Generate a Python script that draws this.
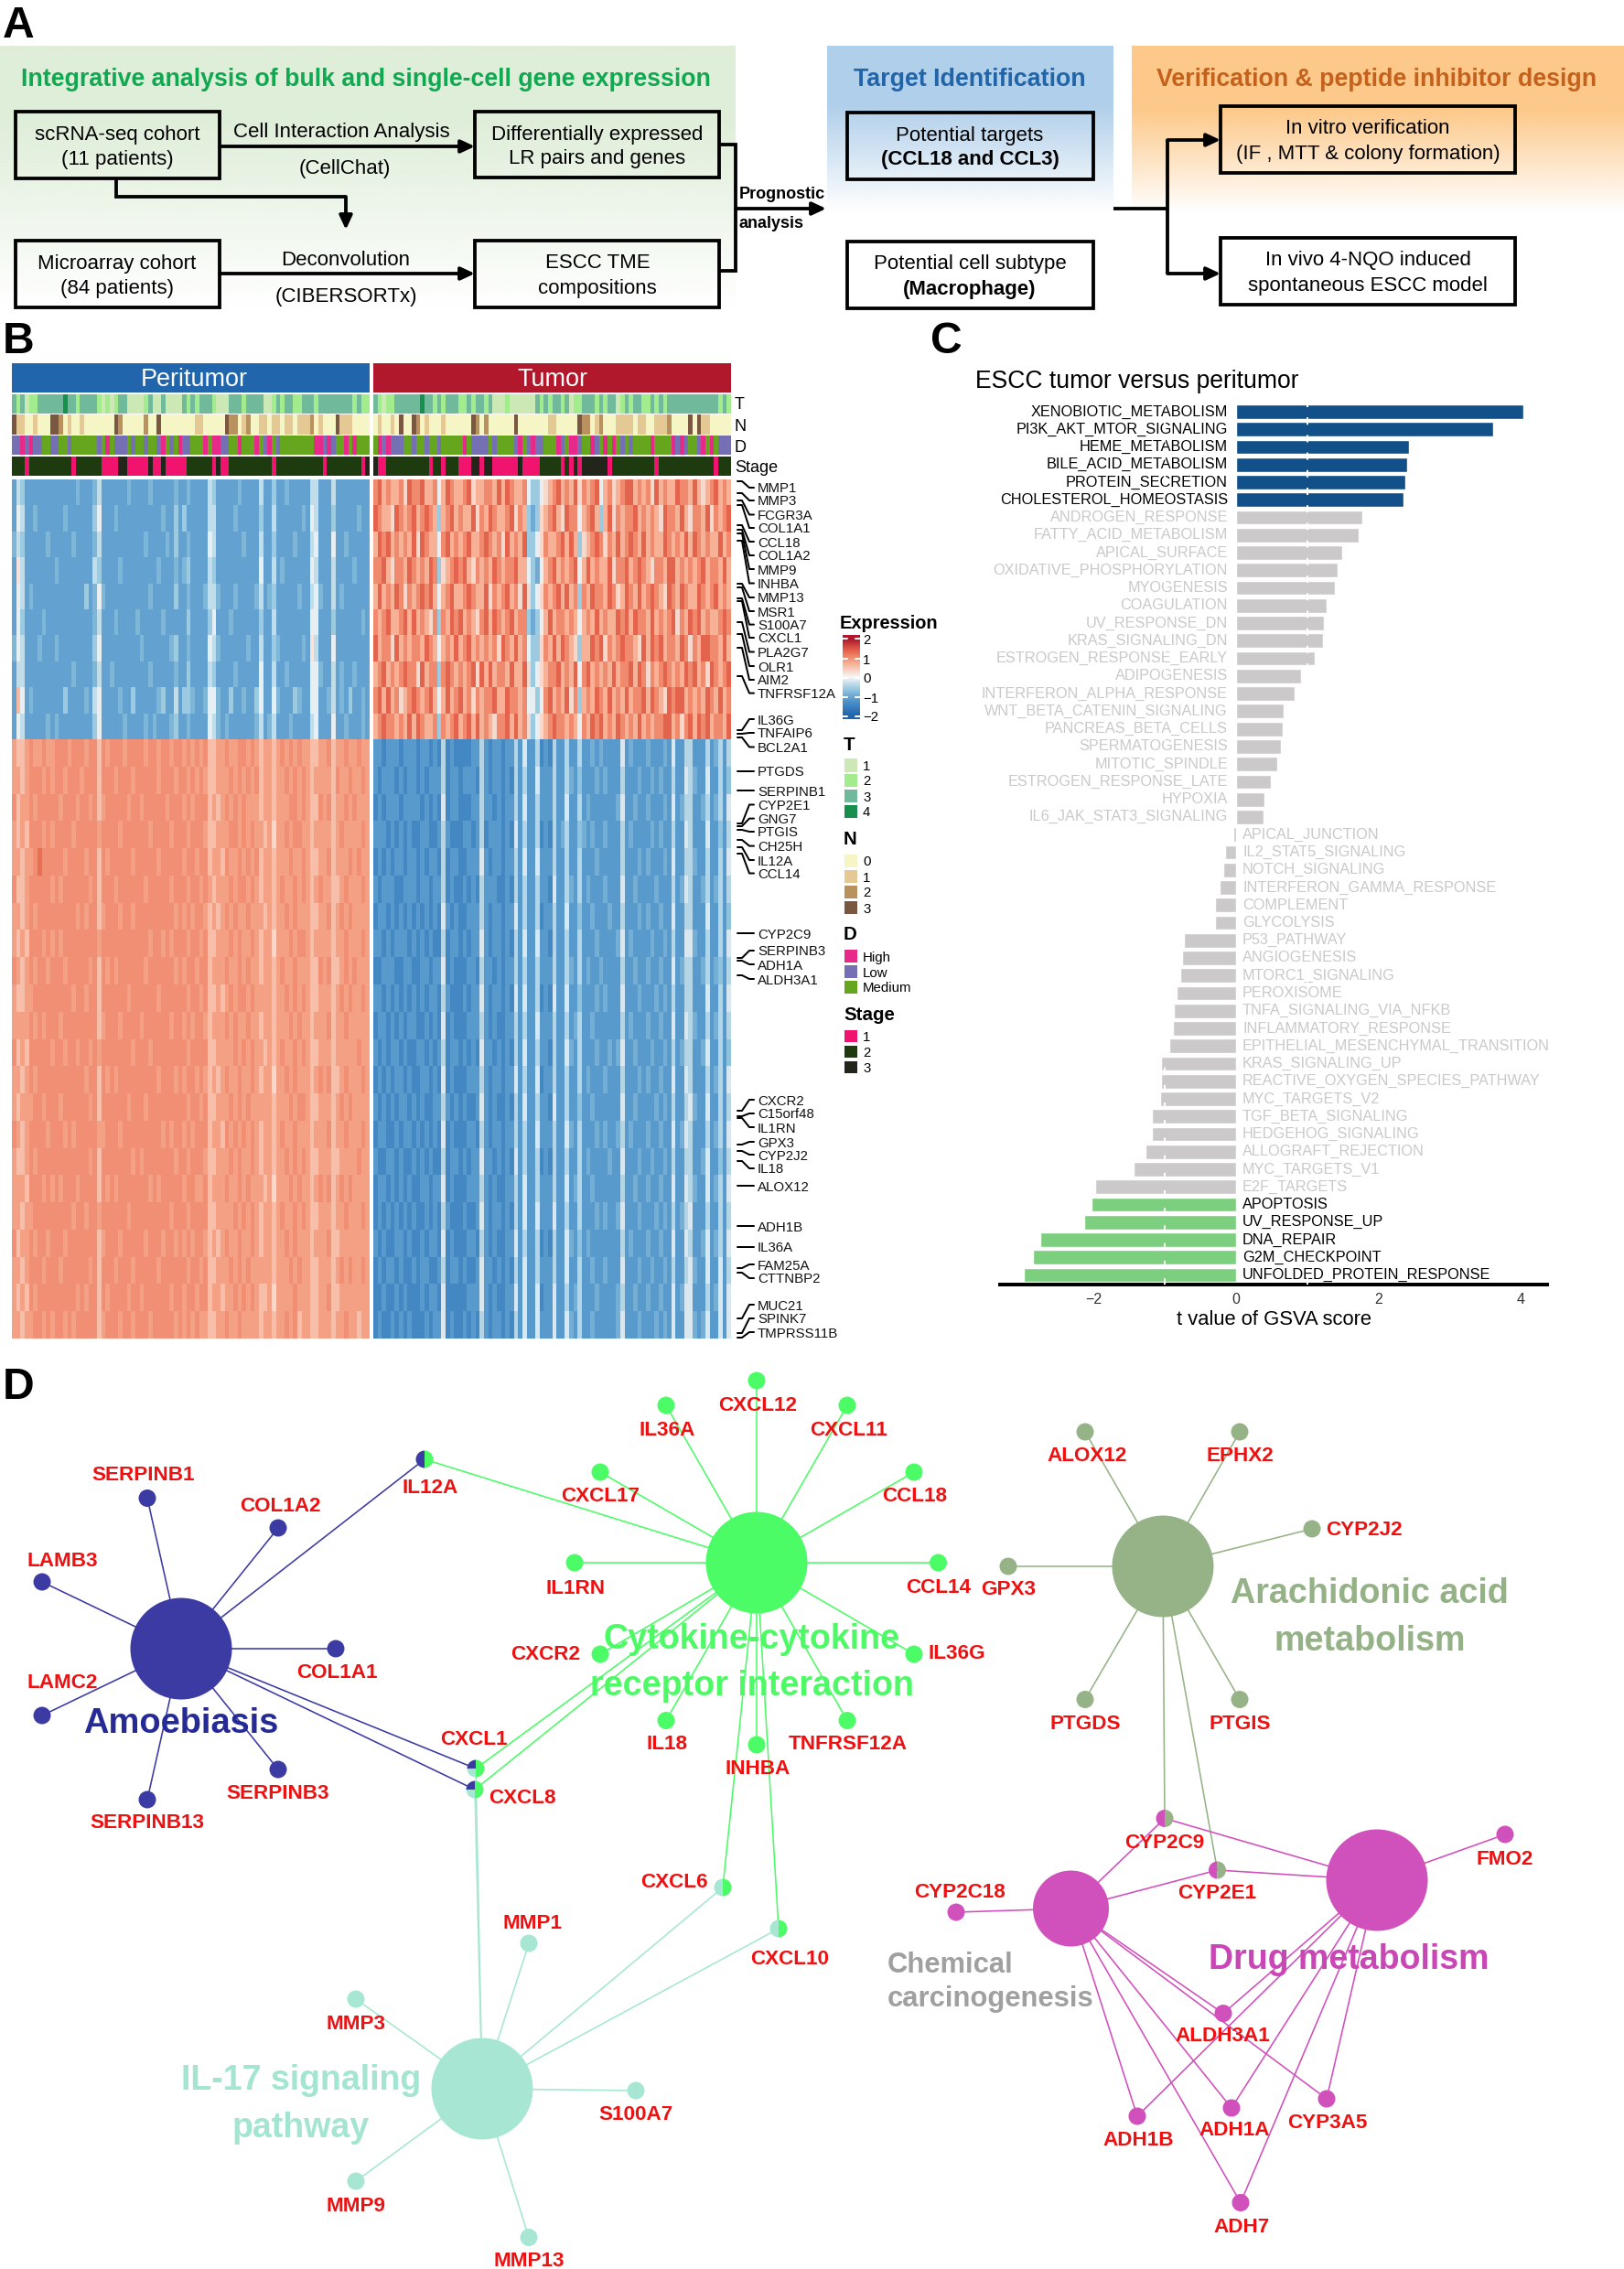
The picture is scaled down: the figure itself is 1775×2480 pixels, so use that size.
import numpy as np, pandas as pd, matplotlib
matplotlib.use("Agg")
import matplotlib.pyplot as plt, seaborn as sns
from matplotlib.colors import ListedColormap, LinearSegmentedColormap, to_rgb
from matplotlib.patches import Rectangle, Wedge

# ---------------- DATA ----------------
PATHWAYS_UP = ["XENOBIOTIC_METABOLISM","PI3K_AKT_MTOR_SIGNALING","HEME_METABOLISM","BILE_ACID_METABOLISM","PROTEIN_SECRETION","CHOLESTEROL_HOMEOSTASIS"]
T_UP = [4.04,3.62,2.43,2.41,2.38,2.36]
PATHWAYS_NS_POS = ["ANDROGEN_RESPONSE","FATTY_ACID_METABOLISM","APICAL_SURFACE","OXIDATIVE_PHOSPHORYLATION","MYOGENESIS","COAGULATION","UV_RESPONSE_DN","KRAS_SIGNALING_DN","ESTROGEN_RESPONSE_EARLY","ADIPOGENESIS","INTERFERON_ALPHA_RESPONSE","WNT_BETA_CATENIN_SIGNALING","PANCREAS_BETA_CELLS","SPERMATOGENESIS","MITOTIC_SPINDLE","ESTROGEN_RESPONSE_LATE","HYPOXIA","IL6_JAK_STAT3_SIGNALING"]
T_NS_POS = [1.78,1.73,1.49,1.43,1.39,1.27,1.24,1.22,1.11,0.92,0.82,0.67,0.66,0.63,0.58,0.49,0.40,0.39]
PATHWAYS_NS_NEG = ["APICAL_JUNCTION","IL2_STAT5_SIGNALING","NOTCH_SIGNALING","INTERFERON_GAMMA_RESPONSE","COMPLEMENT","GLYCOLYSIS","P53_PATHWAY","ANGIOGENESIS","MTORC1_SIGNALING","PEROXISOME","TNFA_SIGNALING_VIA_NFKB","INFLAMMATORY_RESPONSE","EPITHELIAL_MESENCHYMAL_TRANSITION","KRAS_SIGNALING_UP","REACTIVE_OXYGEN_SPECIES_PATHWAY","MYC_TARGETS_V2","TGF_BETA_SIGNALING","HEDGEHOG_SIGNALING","ALLOGRAFT_REJECTION","MYC_TARGETS_V1","E2F_TARGETS"]
T_NS_NEG = [-0.04,-0.155,-0.18,-0.235,-0.29,-0.29,-0.73,-0.76,-0.79,-0.84,-0.88,-0.89,-0.94,-1.06,-1.06,-1.07,-1.18,-1.18,-1.28,-1.44,-1.98]
PATHWAYS_DOWN = ["APOPTOSIS","UV_RESPONSE_UP","DNA_REPAIR","G2M_CHECKPOINT","UNFOLDED_PROTEIN_RESPONSE"]
T_DOWN = [-2.03,-2.13,-2.76,-2.86,-2.98]

ANN_T_PERI = "3 2 3 1 22 333333 4 33 2 3333 2 1 2 1 2 33 1111 2 3 11 3 1111 3 2 3 2 333 2 111 333 2 3333 11 2 3 2 33 22 33 3 2 33333333 2 3 2"
ANN_N_PERI = "3 11 00 1 000 33 2 0 1 00 1 0000000 3 2 00000 2 00 3 00000000 11 00000 3 22 0 1 2 00 11 0 11 0 11 0 111 2 0 1 000 3 111 0000"
ANN_D_PERI = "LL H L H LL MM LL MM L MMMMMM L M H M LLL M L MM L MM L H M L M H LL MMM H M HH LL MM H MMM H M L H M L MMMMMMMM HH L H L MM H M H M"
ANN_S_PERI = "222 1 2222222222 1 222222 1111 33 11111 3 11 3 11111 222222 1 3 11 2222222222 1 22222222222 1 22222222 1 3"
ANN_T_TUM = "3 2 1 22 333333 4 33 2 3 2 333 22 3 2 33 2 3 111 2 11 1111 3 2 3 2 33 2 3 1 22 333 2 3 2 33 1 2 3 2 33 22 3 2 3 2 333333333333 2 3 2"
ANN_N_TUM = "0 1 00 1 0 3 00 3 2 0 1 000 1 000000 3 2 0 2 000000 3 0000000 11 00000 3 22 0 1 2 000 1111 0 11 00 111 2 0000 3 0 3 11 000"
ANN_D_TUM = "M H L H LLL MM L MM L MM L MMMMM H M LLLL M L MMMM L H M L H LL MMM H L M HH L MM H L M H M H M L M L MMMM H MMMM H L H L MM L H M H M L"
ANN_S_TUM = "3 11 2222222222 1 22 1 222 111 33 1 33 111111 3 1111 22222 1 2 1 3 1 333333 1 2222222222 1 2222222222222 1 222"

# Coarse by-eye reading of the expression matrix: one string per band of rows, one digit per patient.
# Each digit is a shade class; the value each class stands for in each block is listed in LEVELS_*.
LEVELS_UL = {"2":-1.1,"3":-0.85,"4":-0.6,"5":-0.35,"6":-0.1,"7":0.2,"8":0.6}
LEVELS_LL = {"4":0.3,"5":0.55,"6":0.85,"7":1.0,"8":1.3}
LEVELS_UR = {"2":-1.0,"3":-0.6,"4":-0.1,"5":0.3,"6":0.7,"7":1.05,"8":1.4}
LEVELS_LR = {"1":-1.45,"2":-1.2,"3":-0.95,"4":-0.7,"5":-0.45,"6":-0.2}
HEAT_UL = [
"2542222222 2222232223 5222222322 2232222232 2322225422 2223222252 2422322222 5522252222 2222",
"2652232222 2232222224 6222322222 2222232242 4222225522 2232222242 2522222232 6522242222 2322",
"3542222232 2222322223 5222222222 2322223242 2322226522 2222322252 2422223222 5622262232 2222",
"2752222222 3222222225 4222232222 2222322232 3422225422 2222222262 2523222222 6522252222 3222",
"2652322222 2222222423 6322222222 2232222242 2322235532 2232222352 3422222322 5632252322 2222",
"2642222322 2222222223 5222322223 2222232222 2422224622 2322222242 2522222222 6622242222 2232",
"3652223222 3222222224 6222222222 3222222342 2322226532 2222232252 2432222232 7522262222 2222",
"2552222222 2222322223 5223222222 2232222232 2422225422 2232222262 2522322222 6632252322 3222",
"2862322222 2242222325 6222232242 2222342252 4432236632 2422322462 2632224322 6622352324 2232",
"2652222232 3222222224 6222223222 2323222342 2322226532 3222222352 3522232222 5622262232 2232"]
HEAT_UR = [
"7867667587 7866746876 6785667768 6876674334 5678676857 6784675678 8676758676 6877686567 8676",
"8766587678 6787636786 7668576876 6785763235 6786587746 7863685767 7867676587 7686577685 7678",
"6878676768 5876647867 6786678767 5867683345 7667868635 6787576867 8768676687 6768687676 6867",
"7786577687 6768735678 7865767687 6778664324 6786767846 8676685778 6787657768 8676767867 7686",
"6867687576 7878646786 6787668576 7867585345 7678686737 6877687568 7686787658 7687668767 8676",
"7678667868 6765737687 8676578687 6786773234 6867767646 7686766878 6877686767 8576878676 6787",
"8677586767 7687646768 6786767675 8768674335 7686876536 6878576787 7658687867 7687576887 7686",
"6786767877 5867737876 7678586867 7686685345 6778676847 8676768677 8687576787 6768786758 7678",
"7868675678 7678646867 8675767786 6877674434 7867685736 7687686768 6778687658 7886767687 6867",
"6787767686 8766737678 6786867657 7868675345 6787767647 6878676876 7686767788 6757868786 7768"]
HEAT_LL = [
"6556766766 7776777677 5767776777 7677677677 6767675566 7667767656 6567676766 5566756676 6766",
"6656777676 7767776777 5777677767 7777677767 7676765566 6767676756 6566767676 5666657667 6676",
"7566767777 7677767767 5677777677 6777776777 6767775656 7676766656 6566677676 5576756676 7666",
"6565777676 7777677777 6777767777 7767777677 7677765566 6776767665 6466767766 5666656766 6676",
"6656678777 7767777677 5767777767 7777677777 6776775665 7667676756 6566676676 5566756667 6766",
"7556777776 7677777767 5777677777 7677777677 7677676566 6767767656 6567667676 5676655676 6676",
"6656767777 7777767677 5677767767 7777777767 6767765656 7676676665 6566767666 5566756767 6666",
"6565777676 7677777777 6777777777 7767767677 7677675566 6767667656 6466676776 5666656676 6676",
"7656767767 7767777767 5767677777 7677777767 6776775666 7667676656 6567667666 5576755676 7666",
"6556677777 7777677677 5777777677 7777677777 7677675565 6767767666 6566767676 5566656767 6676",
"6666767677 7677777777 5677767777 6777777677 6767765666 7676676656 6566676766 5666756676 6666",
"7565777776 7767767767 6777777767 7767777777 7677775566 6676767665 6567667676 5566656666 6766",
"6656767777 7777777677 5767677777 7777677767 6776765656 7667667656 6466767666 5676755676 6676",
"6566677677 7677777767 5777777677 7677777777 7677675566 6767676666 6566676776 5566656767 6666",
"7656777767 7767677777 6677767777 7777767677 6767775665 7676767656 6567667666 5666756676 6676",
"6556767777 7777777767 5777777767 6777777767 7677765566 6767667656 6566767676 5566655666 6766",
"6665777676 7677767777 5767677777 7767677777 6776675666 7667676665 6466676766 5676756767 6666",
"6656677777 7777677677 6777777677 7777777677 7677775566 6676767656 6567667676 5566656676 6676",
"7566767767 7767777777 5677767777 7677767767 6767765656 7667667656 6566767666 5666755666 6666",
"6656777677 7677777767 5777677767 7777677777 7677675566 6767676666 6566676766 5566656767 6676",
"6565767777 7777767677 5767777677 6777777677 6776775665 6676767655 6466667666 5566755666 6666",
"6656677676 7767677777 5677767767 7767777767 6767665566 7667666656 6566767566 5566656676 6566"]
HEAT_LR = [
"2212221222 1221215121 1112252122 1225262251 2152252252 2323222262 3222322232 6225522252 3525",
"2122212122 1212225122 1222152122 1215252262 2252253242 2232322252 2232232322 5226532262 2524",
"1212221222 2121216122 1112252212 1225262252 2252262252 3222222362 2322322232 6235522352 3526",
"2221212121 1221125211 1221251222 1216252251 2152352243 2322322252 3222232322 5226522262 2425",
"1212122122 1212215122 1122262122 1225262262 2252252252 2232222252 2232322232 6225532252 2526",
"2122211222 1221225121 1212152221 1215252252 2162253252 3222322262 2322223222 5236522352 3525",
"1221212121 2121216212 1122252122 1226252251 2252262242 2322232252 2232322322 6225522262 2524",
"2212122212 1212115122 1212262122 1215262262 2152252252 2232222362 3222232232 5226632252 2526",
"1122211221 1221226121 1122152212 1225252252 2252253252 3223222252 2322322322 6235522352 3425",
"2212121212 1212215211 1212262122 1216262251 2162262242 2232322262 2232223232 5225522262 2526",
"1221212122 1121216121 1122252121 1225252262 2252252352 2322222252 3222322322 6226532252 3525",
"2121221211 2212125122 1212162212 1215262252 2152263252 2232232362 2322232232 5235522362 2524",
"1212122121 1221216121 1122252122 1226252261 2252252252 3222322252 2232322322 6226522252 3526",
"2121212212 1211225212 1211262121 1215262252 2162252242 2322222262 2322223232 5225632262 2525",
"1221121221 2121216121 1122152122 1225252262 2252263252 2232322352 3222322322 6236522252 3526",
"2112212112 1212115122 1212262212 1216252251 2152252252 3222232262 2232232232 5225522362 2425",
"1221212121 1221226121 1122252121 1225262252 2252262352 2322222252 2322322322 6226532262 3526",
"1212121212 1121215211 1211262122 1215262262 2262252252 2232322362 2232223232 5235622252 2525",
"2121122121 1212216121 1122152121 1226252251 2152263242 3222222252 3222322322 6226522362 3526",
"1212212112 1221125122 1211262212 1215262252 2252262252 2322322262 2232232232 5225632262 2625",
"1121121211 1212216111 1122262121 1226262261 2262252352 2232222352 2322322322 6236622252 3626",
"1211212121 1121226121 1212152122 1215262262 2262263252 2322222362 2232223232 6226632362 2626"]

GENES_TOP = ["MMP1","MMP3","FCGR3A","COL1A1","CCL18","COL1A2","MMP9","INHBA","MMP13","MSR1","S100A7","CXCL1","PLA2G7","OLR1","AIM2","TNFRSF12A","IL36G","TNFAIP6","BCL2A1","PTGDS","SERPINB1","CYP2E1","GNG7","PTGIS","CH25H","IL12A","CCL14","CYP2C9","SERPINB3","ADH1A","ALDH3A1","CXCR2","C15orf48","IL1RN","GPX3","CYP2J2","IL18","ALOX12","ADH1B","IL36A","FAM25A","CTTNBP2","MUC21","SPINK7","TMPRSS11B"]

MODULES = {
 "Amoebiasis":["SERPINB1","COL1A2","LAMB3","COL1A1","LAMC2","SERPINB3","SERPINB13","IL12A","CXCL1","CXCL8"],
 "Cytokine":["CXCL17","IL36A","CXCL12","CXCL11","CCL18","CCL14","IL36G","TNFRSF12A","INHBA","IL18","CXCR2","IL1RN","IL12A","CXCL1","CXCL8","CXCL6","CXCL10"],
 "IL17":["MMP1","MMP3","S100A7","MMP9","MMP13","CXCL1","CXCL8","CXCL6","CXCL10"],
 "Arachidonic":["ALOX12","EPHX2","CYP2J2","GPX3","PTGDS","PTGIS","CYP2C9","CYP2E1"],
 "Drug":["FMO2","CYP2C9","CYP2E1","ALDH3A1","ADH1A","CYP3A5","ADH1B","ADH7"],
 "Chemical":["CYP2C18","CYP2C9","CYP2E1","ALDH3A1","ADH1A","CYP3A5","ADH1B","ADH7"],
}

# ---------------- LAYOUT AND STYLE ----------------
W, H, DPI = 1775, 2480, 100
def pt(px): return px*72/DPI
sns.set_theme(style="white")
plt.rcParams["font.family"] = ["Liberation Sans", "DejaVu Sans"]
plt.rcParams["axes.unicode_minus"] = True
fig = plt.figure(figsize=(W/DPI, H/DPI), dpi=DPI, facecolor="white")

def px_axes(x0, y0, x1, y1, z=1):
    return fig.add_axes([x0/W, 1-y1/H, (x1-x0)/W, (y1-y0)/H], zorder=z)

cv = fig.add_axes([0, 0, 1, 1], zorder=5)
cv.patch.set_alpha(0)
def reset_canvas():
    cv.set_xlim(0, W); cv.set_ylim(H, 0); cv.axis("off")
reset_canvas()

def txt(x, y, s, px, color="black", weight="normal", ha="center", va="center", z=6):
    cv.text(x, y+1.5, s, fontsize=pt(px), color=color, fontweight=weight, ha=ha, va=va, zorder=z)

def gradient(x0, x1, y0, y_solid, y1, color):
    ys = np.linspace(y0, y1, 200)
    a = np.clip((y1-ys)/(y1-y_solid), 0, 1)
    c = np.array(to_rgb(color))
    img = np.zeros((200, 1, 4)); img[..., :3] = c; img[:, 0, 3] = a
    cv.imshow(img, extent=(x0, x1, y1, y0), aspect="auto", zorder=0, interpolation="bilinear")
    reset_canvas()

# ---------------- PANEL A ----------------
gradient(0, 804, 50, 130, 337, "#DFEED9")
gradient(904, 1217, 50, 115, 232, "#B0CFEA")
gradient(1237, 1775, 50, 120, 232, "#FDC98A")
LW = pt(3.8)
def box(x0, y0, x1, y1):
    cv.add_patch(Rectangle((x0, y0), x1-x0, y1-y0, fill=False, ec="black", lw=LW, zorder=3))
def line(xs, ys, lw=LW):
    cv.plot(xs, ys, color="black", lw=lw, solid_joinstyle="miter", solid_capstyle="butt", zorder=3)
def arrow(x0, y0, x1, y1):
    cv.annotate("", xy=(x1, y1), xytext=(x0, y0), zorder=3,
                arrowprops=dict(arrowstyle="-|>,head_length=0.6,head_width=0.28", lw=LW, color="black", shrinkA=0, shrinkB=0, mutation_scale=15))
for b in [(17,122,240,195),(519,122,786,194),(17,263,240,336),(519,263,786,336),(926,123,1195,196),(926,264,1195,337),(1334,116,1656,189),(1334,260,1656,333)]:
    box(*b)
arrow(240,160,519,160); arrow(240,299,519,299)
line([127,127,378],[195,215,215]); arrow(378,215,378,251)
line([786,804,804,786],[158,158,296,296]); arrow(804,228,903,228)
line([1217,1276],[228,228]); line([1276,1276],[153,299])
arrow(1276,153,1334,153); arrow(1276,299,1334,299)
F = 22.3
txt(23,86,"Integrative analysis of bulk and single-cell gene expression",26.8,"#10A850","bold",ha="left")
txt(1060,86,"Target Identification",26.7,"#2165A8","bold")
txt(1505,86,"Verification & peptide inhibitor design",26.8,"#C4611D","bold")
for x,y,s in [(128,146,"scRNA-seq cohort"),(128,173,"(11 patients)"),(128,287,"Microarray cohort"),(128,314,"(84 patients)"),
              (373,143,"Cell Interaction Analysis"),(377,183,"(CellChat)"),(378,283,"Deconvolution"),(378,323,"(CIBERSORTx)"),
              (653,146,"Differentially expressed"),(653,172,"LR pairs and genes"),(653,286,"ESCC TME"),(653,314,"compositions"),
              (1060,147,"Potential targets"),(1060,287,"Potential cell subtype"),
              (1495,139,"In vitro verification"),(1495,167,"(IF , MTT & colony formation)"),(1495,283,"In vivo 4-NQO induced"),(1495,311,"spontaneous ESCC model")]:
    txt(x,y,s,F)
txt(1060,173,"(CCL18 and CCL3)",F,weight="bold"); txt(1060,315,"(Macrophage)",F,weight="bold")
txt(808,211,"Prognostic",18,weight="bold",ha="left"); txt(808,243,"analysis",18,weight="bold",ha="left")
for s,x,y in [("A",3,27),("B",3,372),("C",1017,372),("D",3,1515)]:
    txt(x,y,s,48,weight="bold",ha="left")

# ---------------- PANEL B ----------------
HEAT_CMAP = LinearSegmentedColormap.from_list("expr", ["#2166AC","#4A8FC8","#92C5DE","#F7F7F7","#F7B49A","#E96C50","#B2182B"])
def to_matrix(rows, levels):
    m = []
    for r in rows:
        r = r.replace(" ", "")[:84].ljust(84, r[-1])
        m.append([levels[c] for c in r])
    return np.array(m)
X_P = (13, 404); X_T = (408, 799); Y_HEAT = (524, 808, 1463)
for rows, lv, xs, ys in [(HEAT_UL,LEVELS_UL,X_P,Y_HEAT[:2]),(HEAT_LL,LEVELS_LL,X_P,Y_HEAT[1:]),(HEAT_UR,LEVELS_UR,X_T,Y_HEAT[:2]),(HEAT_LR,LEVELS_LR,X_T,Y_HEAT[1:])]:
    a = px_axes(xs[0], ys[0], xs[1], ys[1])
    sns.heatmap(to_matrix(rows, lv), ax=a, cmap=HEAT_CMAP, vmin=-2, vmax=2, cbar=False, xticklabels=False, yticklabels=False)

ANN_COLORS = {"T":{"1":"#CCE8B5","2":"#A2EC8E","3":"#70B99B","4":"#178F4E"},
              "N":{"0":"#F5F5C5","1":"#E5C995","2":"#B9915F","3":"#7A5740"},
              "D":{"H":"#E7298A","L":"#7570B3","M":"#66A61E"},
              "S":{"1":"#F0146E","2":"#1E3A0F","3":"#22261A"}}
ANN_Y = {"T":(431,452),"N":(453,475),"D":(476,497),"S":(499,520)}
def strip(key, s, xs):
    s = s.replace(" ", "")[:84]; s = s.ljust(84, s[-1])
    keys = list(ANN_COLORS[key])
    vals = np.array([[keys.index(c) for c in s]])
    a = px_axes(xs[0], ANN_Y[key][0], xs[1], ANN_Y[key][1])
    sns.heatmap(vals, ax=a, cmap=ListedColormap([ANN_COLORS[key][k] for k in keys]), vmin=-0.5, vmax=len(keys)-0.5, cbar=False, xticklabels=False, yticklabels=False)
for k,s in zip("TNDS",[ANN_T_PERI,ANN_N_PERI,ANN_D_PERI,ANN_S_PERI]): strip(k,s,X_P)
for k,s in zip("TNDS",[ANN_T_TUM,ANN_N_TUM,ANN_D_TUM,ANN_S_TUM]): strip(k,s,X_T)
cv.add_patch(Rectangle((13,397),391,32,fc="#2166AC",ec="none",zorder=2))
cv.add_patch(Rectangle((408,397),391,32,fc="#B2182B",ec="none",zorder=2))
txt(212,413,"Peritumor",27,"white"); txt(604,413,"Tumor",27,"white")
for y,s in [(441,"T"),(465,"N"),(488,"D"),(510,"Stage")]:
    txt(803,y,s,18,ha="left")

GENE_LABEL_Y = [533,547,562.5,577,592,607,622,637.5,653,668,682.6,697,712.5,728,743,757.6,786,801,816.5,843,864,879.5,894.6,909,924.6,940,954.5,1020,1039,1054,1070,1202,1217,1232,1248,1262,1277,1296,1340,1363,1382,1397,1426,1441,1456]
GENE_ROW_Y = [526,539,547,552,574,579,583,591,638,642,654,657,680,693,708,739,798,802,806,843,864,900,903,907,918,926,933,1020,1047,1050,1066,1214,1220,1222,1251,1258,1269,1296,1340,1363,1386,1391,1441,1457,1462]
for g,ly,ry in zip(GENES_TOP,GENE_LABEL_Y,GENE_ROW_Y):
    cv.plot([806,811,819,824],[ry,ry,ly,ly],color="black",lw=pt(2),zorder=3)
    txt(828,ly,g,15,"#111111",ha="left")

txt(918,680,"Expression",20,weight="bold",ha="left")
cb = px_axes(921,694,940,786)
sns.heatmap(np.linspace(2.2,-2.2,92).reshape(-1,1),ax=cb,cmap=HEAT_CMAP,vmin=-2,vmax=2,cbar=False,xticklabels=False,yticklabels=False)
for y,s in zip([698,720,741,762,783],["2","1","0","\u22121","\u22122"]):
    cv.plot([921,926],[y,y],color="white",lw=pt(2),zorder=3); cv.plot([935,940],[y,y],color="white",lw=pt(2),zorder=3)
    txt(943,y,s,15,ha="left")
LEG = [("T",812.5,"T",[(829,844,"1"),(846,860,"2"),(863,877,"3"),(880,894,"4")]),
       ("N",916,"N",[(934,948,"0"),(951,965,"1"),(968,982,"2"),(985,999,"3")]),
       ("D",1020,"D",[(1038,1052,"High"),(1055,1069,"Low"),(1072,1086,"Medium")]),
       ("Stage",1108,"S",[(1126,1139,"1"),(1143,1156,"2"),(1160,1173,"3")])]
for title,ty,key,items in LEG:
    txt(922,ty,title,20.5,weight="bold",ha="left")
    for (y0,y1,lab),col in zip(items,ANN_COLORS[key].values()):
        cv.add_patch(Rectangle((923,y0),14,y1-y0,fc=col,ec="none",zorder=3))
        txt(943,(y0+y1)/2,lab,15,ha="left")

# ---------------- PANEL C ----------------
names = PATHWAYS_UP+PATHWAYS_NS_POS+PATHWAYS_NS_NEG+PATHWAYS_DOWN
vals = T_UP+T_NS_POS+T_NS_NEG+T_DOWN
grp = ["up"]*len(T_UP)+["ns"]*(len(T_NS_POS)+len(T_NS_NEG))+["down"]*len(T_DOWN)
df = pd.DataFrame({"pathway":names,"t":vals,"group":grp})
X0PX, UNIT = 1351, 77.7
YTOP, YBOT = 438, 1404
axc = px_axes(1093,YTOP,1691,YBOT,z=2)
sns.barplot(data=df,y="pathway",x="t",hue="group",palette={"up":"#125089","ns":"#CBC9C9","down":"#7DCF80"},dodge=False,width=0.82,legend=False,ax=axc,saturation=1)
axc.set_xlim((1093-X0PX)/UNIT,(1691-X0PX)/UNIT)
axc.set_ylim(49+(YBOT-1393.6)/19.26,-(450-YTOP)/19.26)
axc.set_yticks([]); axc.set_ylabel("")
axc.set_xticks([-2,0,2,4]); axc.tick_params(axis="x",length=0,pad=pt(9),labelsize=pt(16),labelcolor="#333333")
axc.set_xlabel("t value of GSVA score",fontsize=pt(22),labelpad=pt(4),color="black")
for side in ["top","left","right"]: axc.spines[side].set_visible(False)
axc.spines["bottom"].set_linewidth(pt(4)); axc.spines["bottom"].set_color("black")
for xv in [-1,1]:
    axc.axvline(xv,color="white",lw=pt(2),linestyle=(0.5,(4,5.6)),zorder=5)
for i,(n,v,g) in enumerate(zip(names,vals,grp)):
    col = "black" if g!="ns" else "#C9C9C9"
    if v>0: axc.text(-9/UNIT,i,n,ha="right",va="center",fontsize=pt(16.2),color=col)
    else:   axc.text(7/UNIT,i,n,ha="left",va="center",fontsize=pt(16.2),color=col)
txt(1066,415,"ESCC tumor versus peritumor",26.5,ha="left")

# ---------------- PANEL D ----------------
HUB_XY = {"Amoebiasis":(198,1802),"Cytokine":(827,1708),"IL17":(527,2283),"Arachidonic":(1271,1712),"Drug":(1505,2055),"Chemical":(1170.5,2086)}
NODE_XY = {"SERPINB1":(161,1637.5),"COL1A2":(304,1670),"LAMB3":(46,1729),"COL1A1":(367,1802),"LAMC2":(46,1875),"SERPINB3":(304,1934),"SERPINB13":(161,1967),"IL12A":(464,1595),"CXCL1":(520,1933),"CXCL8":(519,1956),
 "CXCL17":(656,1609),"IL36A":(728,1536),"CXCL12":(827,1509),"CXCL11":(926,1536),"CCL18":(999,1609),"CCL14":(1025.5,1708),"IL36G":(999,1808),"TNFRSF12A":(926,1880.5),"INHBA":(827,1907),"IL18":(728,1880.5),"CXCR2":(656,1808),"IL1RN":(628,1708),
 "CXCL6":(790,2063),"CXCL10":(851,2108),"MMP1":(578,2124),"MMP3":(389,2185),"S100A7":(695,2285),"MMP9":(389,2384),"MMP13":(578,2445.5),
 "ALOX12":(1186,1565),"EPHX2":(1355,1565),"CYP2J2":(1434,1671),"GPX3":(1102,1712),"PTGDS":(1186,1857.5),"PTGIS":(1355,1857.5),"CYP2C9":(1273,1987.5),"CYP2E1":(1330.5,2044),"FMO2":(1645,2005),"CYP2C18":(1045,2090),"ALDH3A1":(1337,2200.6),"ADH1A":(1346,2304),"CYP3A5":(1450,2294),"ADH1B":(1243,2313),"ADH7":(1356,2407.5)}
LABEL_XY = {"SERPINB1":(157,1611),"COL1A2":(306,1644.5),"LAMB3":(68,1704.5),"COL1A1":(368,1827),"LAMC2":(68,1838.4),"SERPINB3":(304,1959),"SERPINB13":(161,1991.5),"IL12A":(470,1625),"CXCL17":(656,1634),"IL36A":(729,1561.6),"CXCL12":(828,1535),"CXCL11":(927,1561.6),"CCL18":(1000,1634),"CCL14":(1026,1734),"IL36G":(1046,1805.6),"CXCR2":(596,1807),"IL1RN":(629,1734.5),"IL18":(729,1905),"INHBA":(828,1932),"TNFRSF12A":(927,1905),"CXCL1":(518,1900),"CXCL8":(571,1964),"CXCL6":(737,2056),"CXCL10":(863,2140),"MMP1":(582,2100.5),"MMP3":(389,2211.5),"S100A7":(695,2310),"MMP9":(389,2410),"MMP13":(578,2470),
 "ALOX12":(1188,1590),"EPHX2":(1355,1590),"CYP2J2":(1490.5,1670.6),"GPX3":(1102,1736),"PTGDS":(1186,1882.5),"PTGIS":(1355,1882.5),"CYP2C9":(1272.6,2012.5),"CYP2E1":(1330,2068),"FMO2":(1645,2030.6),"CYP2C18":(1049,2067),"ALDH3A1":(1336,2224),"ADH1A":(1349,2327.5),"CYP3A5":(1450.5,2319),"ADH1B":(1244,2338),"ADH7":(1357,2432.5)}
MOD_COLOR = {"Amoebiasis":"#3B3BA3","Cytokine":"#4CFC66","IL17":"#A6E6D2","Arachidonic":"#96B387","Drug":"#D050BC","Chemical":"#D050BC"}
for hub,genes in MODULES.items():
    hx,hy = HUB_XY[hub]
    for g in genes:
        x,y = NODE_XY[g]
        cv.plot([hx,x],[hy,y],color=MOD_COLOR[hub],lw=pt(1.6),zorder=2)
shared = {g for g in NODE_XY if sum(g in v for v in MODULES.values())>1}
rows = [{"x":HUB_XY[m][0],"y":HUB_XY[m][1],"module":m,"kind":"small" if m=="Chemical" else "hub"} for m in MODULES]
for m,genes in MODULES.items():
    for g in genes:
        if g not in shared:
            rows.append({"x":NODE_XY[g][0],"y":NODE_XY[g][1],"module":m,"kind":"leaf"})
nd = pd.DataFrame(rows)
sns.scatterplot(data=nd,x="x",y="y",hue="module",palette=MOD_COLOR,size="kind",sizes={"hub":pt(111)**2,"small":pt(83)**2,"leaf":pt(19)**2},
                legend=False,linewidth=0,ax=cv,zorder=3)
reset_canvas()
PIE = {"IL12A":[("Amoebiasis",90,270),("Cytokine",-90,90)],
       "CXCL1":[("Amoebiasis",180,270),("Cytokine",-90,90),("IL17",90,180)],
       "CXCL8":[("Amoebiasis",180,270),("Cytokine",-90,90),("IL17",90,180)],
       "CXCL6":[("IL17",90,270),("Cytokine",-90,90)],
       "CXCL10":[("IL17",90,270),("Cytokine",-90,90)],
       "CYP2C9":[("Drug",90,270),("Arachidonic",-90,90)],
       "CYP2E1":[("Drug",90,270),("Arachidonic",-90,90)],
       "ALDH3A1":[("Drug",0,360)],"ADH1A":[("Drug",0,360)],"CYP3A5":[("Drug",0,360)],"ADH1B":[("Drug",0,360)],"ADH7":[("Drug",0,360)]}
for g,parts in PIE.items():
    for m,a0,a1 in parts:
        cv.add_patch(Wedge(NODE_XY[g],9.5,a0,a1,fc=MOD_COLOR[m],ec="none",zorder=4))
for g,(x,y) in LABEL_XY.items():
    txt(x,y,g,22.5,"#EE1111","bold",z=6)
txt(198,1883,"Amoebiasis",38,"#252A95","bold",z=7)
txt(822,1790.6,"Cytokine-cytokine",37.6,"#4DFA66","bold",z=7)
txt(822,1841.6,"receptor interaction",37.6,"#4DFA66","bold",z=7)
txt(329,2272,"IL-17 signaling",37.5,"#A3E5D0","bold",z=7)
txt(329,2324,"pathway",37.5,"#A3E5D0","bold",z=7)
txt(1497,1740.6,"Arachidonic acid",37.8,"#94B286","bold",z=7)
txt(1497,1792,"metabolism",37.8,"#94B286","bold",z=7)
txt(1474,2140,"Drug metabolism",37.5,"#C946B5","bold",z=7)
txt(969.5,2146,"Chemical",31,"#A0A0A0","bold",ha="left",z=7)
txt(969.5,2184,"carcinogenesis",31,"#A0A0A0","bold",ha="left",z=7)

fig.savefig("out.png",dpi=DPI,facecolor="white")
